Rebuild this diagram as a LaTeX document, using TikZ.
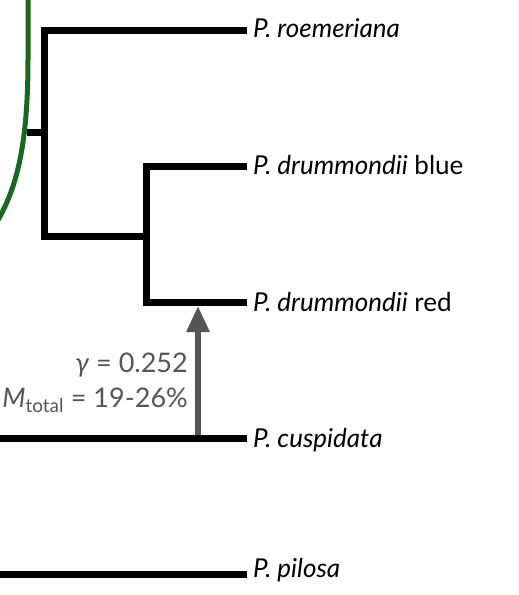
\documentclass[tikz,border=0pt]{standalone}
\usepackage{fontspec}
\setmainfont{Lato}
\usetikzlibrary{arrows.meta}
\definecolor{hybgreen}{RGB}{24,104,30}
\definecolor{flowgray}{RGB}{85,85,85}

\begin{document}
\begin{tikzpicture}[x=1pt,y=-1pt,
  branch/.style={line width=7pt,line join=miter},
  taxon/.style={anchor=base west,inner sep=0pt,font=\fontsize{26}{30}\selectfont},
  stat/.style={anchor=base east,inner sep=0pt,text=flowgray,font=\fontsize{27}{31}\selectfont},
  flow/.style={line width=6pt,draw=flowgray,-{Triangle[length=26pt,width=22pt]}},
]
  \useasboundingbox (0,0) rectangle (519,595);
  % tips
  \coordinate (troe) at (247,30);
  \coordinate (tblu) at (247,166);
  \coordinate (tred) at (247,302);
  \coordinate (tcus) at (247,438);
  \coordinate (tpil) at (247,574);
  % internal nodes
  \coordinate (a) at (44,132);
  \coordinate (b) at (146,236);
  \coordinate (root) at (27,132);
  \coordinate (lcus) at (-4,438);
  \coordinate (lpil) at (-4,574);
  \node[taxon] (roe) at (253,37)  {\textit{P. roemeriana}};
  \node[taxon] (blu) at (253,174) {\textit{P. drummondii} blue};
  \node[taxon] (red) at (253,311) {\textit{P. drummondii} red};
  \node[taxon] (cus) at (253,447) {\textit{P. cuspidata}};
  \node[taxon] (pil) at (253,577) {\textit{P. pilosa}};
  \draw[branch] (troe) -| (a) |- (b);
  \draw[branch] (a) -- (root);
  \draw[branch] (tblu) -| (b) |- (tred);
  \draw[branch] (lcus) -- (tcus);
  \draw[branch] (lpil) -- (tpil);
  % hybrid lineage
  \draw[hybgreen,line width=5pt] (28,-4) -- (28,60) .. controls (28,150) and (15,190) .. (-2,220);
  % migration arrow
  \coordinate (mfrom) at (198,435);
  \coordinate (mto) at (198,306);
  \draw[flow] (mfrom) -- (mto);
  \node[stat] (gam) at (188,372) {\textit{γ} = 0.252};
  \node[stat] (mig) at (188,407) {\textit{M}\textsubscript{total} = 19-26\%};
\end{tikzpicture}
\end{document}
